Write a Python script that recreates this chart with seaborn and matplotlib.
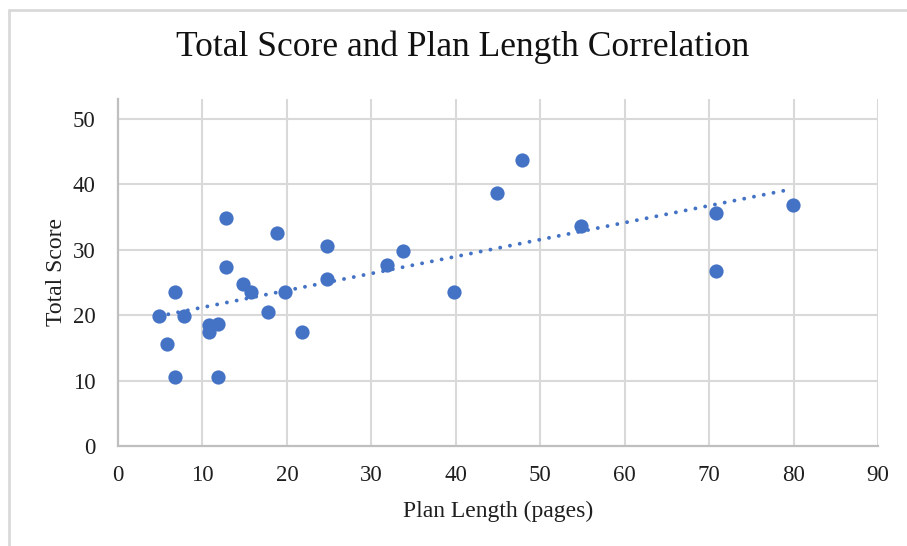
import numpy as np
import pandas as pd
import matplotlib
matplotlib.use("Agg")
import matplotlib.pyplot as plt
from matplotlib.lines import Line2D
import seaborn as sns

# Data
plan_length = [4.8, 5.8, 6.8, 6.8, 7.8, 10.8, 10.8, 11.8, 11.8, 12.8, 12.8, 14.8,
               15.8, 17.8, 18.8, 19.8, 21.8, 24.8, 24.8, 31.8, 33.8, 39.8, 44.9,
               47.9, 54.8, 70.8, 70.8, 79.9]
total_score = [19.8, 15.6, 23.6, 10.5, 19.8, 18.5, 17.4, 18.7, 10.5, 34.8, 27.4,
               24.8, 23.6, 20.5, 32.5, 23.6, 17.4, 30.6, 25.6, 27.6, 29.8, 23.6,
               38.7, 43.7, 33.7, 35.6, 26.7, 36.8]
x_ticks = [0, 10, 20, 30, 40, 50, 60, 70, 80, 90]
y_ticks = [0, 10, 20, 30, 40, 50]

title = "Total Score and Plan Length Correlation"
x_label = "Plan Length (pages)"
y_label = "Total Score"

df = pd.DataFrame({"plan": plan_length, "score": total_score})

sns.set_theme(style="white")
plt.rcParams["font.family"] = ["Liberation Serif", "DejaVu Serif"]

BLUE = "#4472C4"
GRID = "#d9d9d9"
TEXT = "#1f1f1f"

fig = plt.figure(figsize=(9.07, 5.46), dpi=100)
fig.patch.set_facecolor("white")
ax = fig.add_axes([118 / 907, 1 - 446 / 546, (878 - 118) / 907, (446 - 99) / 546])

sns.regplot(data=df, x="plan", y="score", ax=ax, ci=None, truncate=True,
            scatter_kws=dict(s=105, color=BLUE, edgecolor=BLUE, linewidths=0,
                             alpha=1, zorder=3),
            line_kws=dict(color=BLUE, lw=2.8, linestyle=(0, (0.01, 2.55)),
                          dash_capstyle="round", zorder=2))

ax.set_xlim(0, 90)
ax.set_ylim(0, 50 + 20 / 6.56)
ax.set_xticks(x_ticks)
ax.set_yticks(y_ticks)
ax.set_xticklabels([str(v) for v in x_ticks])
ax.set_yticklabels([str(v) for v in y_ticks])

# Gridlines: vertical full height, horizontal only at tick values
for xv in x_ticks[1:]:
    ax.axvline(xv, color=GRID, lw=1.5, zorder=0)
for yv in y_ticks[1:]:
    ax.axhline(yv, color=GRID, lw=1.5, zorder=0)

for s in ["top", "right"]:
    ax.spines[s].set_visible(False)
for s in ["left", "bottom"]:
    ax.spines[s].set_color("#bfbfbf")
    ax.spines[s].set_linewidth(1.6)

ax.tick_params(axis="both", length=0, labelsize=16.5, colors=TEXT)
ax.tick_params(axis="x", pad=14)
ax.tick_params(axis="y", pad=16)

ax.set_xlabel(x_label, fontsize=17, color=TEXT, labelpad=10)
ax.set_ylabel(y_label, fontsize=17, color=TEXT, labelpad=4)
fig.text(463 / 907, 1 - 47 / 546, title, ha="center",
         va="center", fontsize=25.5, color="#111111")

# Chart frame (left and top edges visible)
fig.add_artist(Line2D([9 / 907, 9 / 907], [0, 1 - 10 / 546], color=GRID,
                      lw=2, transform=fig.transFigure))
fig.add_artist(Line2D([9 / 907, 1], [1 - 10 / 546, 1 - 10 / 546], color=GRID,
                      lw=2, transform=fig.transFigure))

fig.savefig("out.png", dpi=100, facecolor="white")
